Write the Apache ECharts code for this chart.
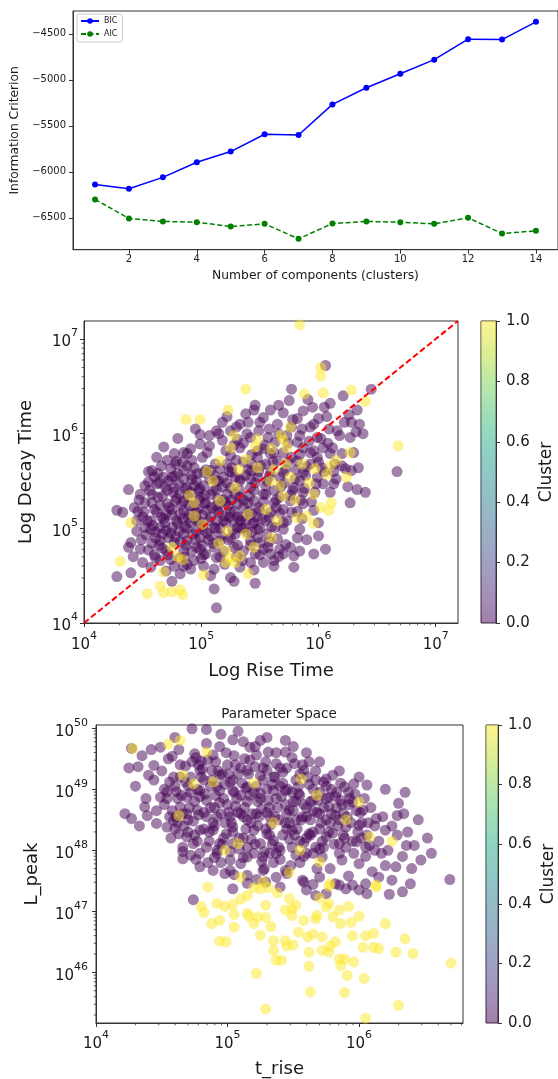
<!DOCTYPE html>
<html><head><meta charset="utf-8">
<script src="https://cdn.jsdelivr.net/npm/echarts@6/dist/echarts.min.js"></script>
<style>html,body{margin:0;padding:0;background:#fff}#c{width:558px;height:1079px}</style>
</head><body><div id="c"></div>
<script>
// ---------- Chart 1 data ----------
const components = [1,2,3,4,5,6,7,8,9,10,11,12,13,14];
const bic = [-6137,-6184,-6060,-5896,-5780,-5591,-5599,-5267,-5086,-4933,-4780,-4558,-4562,-4369];
const aic = [-6300,-6507,-6540,-6548,-6595,-6566,-6729,-6562,-6540,-6548,-6566,-6500,-6671,-6642];

// ---------- Chart 2 data: [log10 rise time, log10 decay time] ----------
const decayRiseCluster0 = [[6.06,6.72],[5.77,6.47],[6.21,6.40],[6.45,6.47],[5.91,6.36],[5.38,6.21],[5.45,6.25],[5.59,6.25],[5.53,6.17],[5.70,6.22],[5.87,6.24],[5.82,6.16],[6.00,6.16],[6.05,6.28],[6.26,6.20],[6.33,6.25],[5.18,6.12],[5.30,6.07],[5.50,6.12],[5.65,6.10],[5.77,6.07],[5.93,6.07],[6.09,6.05],[6.16,6.03],[6.28,6.12],[6.35,6.10],[5.13,6.03],[5.07,5.98],[4.99,5.99],[5.39,6.00],[5.31,5.94],[5.42,5.96],[5.57,5.96],[5.73,5.98],[5.84,5.98],[5.99,5.96],[6.27,5.96],[6.38,6.00],[5.07,5.87],[4.91,5.84],[4.85,5.80],[4.77,5.79],[5.33,5.85],[5.53,5.84],[5.87,5.85],[6.04,5.85],[6.10,5.79],[6.20,5.79],[4.62,5.75],[4.71,5.72],[4.88,5.79],[5.01,5.75],[5.22,5.68],[5.48,5.75],[5.55,5.68],[5.65,5.71],[5.82,5.71],[5.93,5.68],[6.14,5.68],[6.23,5.63],[6.34,5.64],[4.58,5.61],[4.74,5.63],[4.94,5.64],[5.08,5.61],[5.26,5.59],[5.43,5.61],[5.70,5.59],[5.87,5.59],[6.28,5.61],[4.60,5.54],[4.75,5.54],[4.55,5.49],[4.62,5.47],[4.85,5.52],[4.96,5.50],[5.11,5.56],[5.19,5.54],[5.33,5.50],[5.48,5.54],[5.67,5.54],[5.84,5.50],[5.99,5.54],[6.04,5.47],[6.13,5.47],[4.38,5.41],[4.77,5.43],[4.88,5.43],[5.02,5.45],[5.13,5.41],[5.25,5.43],[5.42,5.43],[5.79,5.43],[4.67,5.34],[4.82,5.36],[4.91,5.38],[4.99,5.33],[5.08,5.36],[5.22,5.36],[5.33,5.33],[5.53,5.36],[5.87,5.38],[6.33,5.41],[6.40,5.38],[4.58,5.27],[4.71,5.26],[4.85,5.29],[4.94,5.24],[5.04,5.27],[5.13,5.24],[5.31,5.26],[5.40,5.27],[5.62,5.27],[5.76,5.29],[5.87,5.26],[6.27,5.27],[4.28,5.19],[4.33,5.17],[4.51,5.17],[4.62,5.17],[4.75,5.20],[4.82,5.15],[5.05,5.19],[5.15,5.17],[5.25,5.17],[5.50,5.19],[5.59,5.17],[5.70,5.20],[5.77,5.17],[5.96,5.19],[4.45,5.08],[4.57,5.08],[4.68,5.10],[4.79,5.08],[4.91,5.06],[5.13,5.08],[5.33,5.08],[5.45,5.06],[6.00,5.06],[4.45,4.97],[4.57,4.99],[4.67,4.94],[4.75,5.01],[4.85,4.94],[4.96,4.97],[5.08,4.92],[5.31,5.01],[5.48,4.99],[5.56,4.94],[5.70,4.99],[5.84,4.99],[4.40,4.85],[4.65,4.87],[4.77,4.85],[4.88,4.87],[4.99,4.90],[5.16,4.87],[5.25,4.90],[5.42,4.87],[5.50,4.85],[5.65,4.89],[4.38,4.80],[4.48,4.78],[4.55,4.77],[4.85,4.76],[4.96,4.80],[5.04,4.73],[5.28,4.80],[5.36,4.76],[5.53,4.78],[5.67,4.78],[5.76,4.80],[5.84,4.76],[5.96,4.73],[6.06,4.78],[4.74,4.67],[4.82,4.69],[4.94,4.66],[5.13,4.69],[5.79,4.71],[4.57,4.59],[4.77,4.60],[4.91,4.57],[5.11,4.57],[5.53,4.64],[5.62,4.66],[5.62,4.60],[5.79,4.59],[4.40,4.53],[4.28,4.49],[4.82,4.52],[5.25,4.48],[5.28,4.44],[5.46,4.42],[4.75,4.44],[5.11,4.36],[5.13,4.16],[6.67,5.60],
[4.70,5.15],[4.72,4.90],[4.81,4.97],[4.89,5.11],[4.98,5.08],[5.02,4.99],[5.11,5.01],[5.19,5.08],[5.21,5.27],[5.28,5.08],[5.36,5.22],[5.43,5.15],[5.36,5.01],[5.29,4.94],[5.19,4.76],[5.11,4.80],[5.01,4.82],[4.92,4.76],[4.70,4.76],[4.61,4.69],[4.65,5.01],[4.60,5.20],[4.52,5.27],[4.78,5.29],[4.98,5.40],[5.13,5.50],[5.29,5.54],[5.42,5.52],[5.55,5.45],[5.62,5.40],[5.67,5.33],[5.59,5.59],[5.48,5.82],[5.25,5.77],[5.16,5.63],[5.02,5.59],[4.78,5.68],[4.85,5.61],[4.92,5.56],[5.36,5.70],[5.43,5.68],[5.59,5.79],[5.70,5.80],[5.77,5.75],[5.99,5.75],[5.96,5.82],[5.82,5.91],[5.63,5.91],[5.49,6.03],[5.33,6.10],[5.25,6.03],[5.18,5.93],[4.99,5.89],[4.79,5.71],[4.68,5.54],[4.48,5.36],[4.43,5.22],[4.52,5.01],[4.61,4.90],[4.85,5.19],[4.96,5.17],[5.06,5.08],[5.23,5.24],[5.45,5.29],[5.55,5.08],[5.63,5.01],[5.73,5.08],[5.86,5.10],[5.82,4.90],[5.70,4.73],[5.59,4.73],[5.46,4.73],[5.42,4.64],[5.33,4.59],[5.02,4.60],[4.85,4.60],[4.65,4.66],
[4.47,5.30],[4.50,5.12],[4.53,4.93],[4.56,5.40],[4.59,5.03],[4.63,5.33],[4.64,4.82],[4.66,5.12],[4.69,5.44],[4.70,4.98],[4.73,5.22],[4.76,5.38],[4.78,4.91],[4.80,5.05],[4.81,5.47],[4.83,5.25],[4.86,5.02],[4.87,4.82],[4.89,5.33],[4.90,5.15],[4.93,4.94],[4.94,5.45],[4.96,5.08],[4.98,5.30],[4.99,4.78],[4.55,5.60],[4.66,5.66],[4.72,5.50],[4.80,5.58],[4.88,5.66],[4.92,5.72],[4.97,5.58],
[5.01,5.14],[5.03,5.35],[5.05,4.95],[5.07,5.52],[5.09,5.22],[5.10,4.84],[5.12,5.68],[5.14,5.31],[5.16,5.00],[5.18,5.44],[5.20,5.13],[5.21,5.82],[5.23,4.88],[5.24,5.60],[5.26,5.30],[5.28,5.18],[5.30,5.72],[5.31,4.82],[5.33,5.40],[5.35,5.12],[5.36,5.90],[5.38,5.56],[5.39,4.96],[5.41,5.34],[5.43,5.78],[5.44,5.05],[5.46,5.48],[5.48,4.90],[5.49,5.22],[5.51,5.66],[5.52,5.10],[5.54,5.88],[5.55,5.36],[5.57,4.80],[5.58,5.55],[5.60,5.02],
[5.62,5.80],[5.64,5.22],[5.66,6.00],[5.68,5.44],[5.70,5.06],[5.72,5.62],[5.74,5.90],[5.76,5.35],[5.78,6.15],[5.80,5.52],[5.82,5.18],[5.84,5.78],[5.86,6.05],[5.88,5.42],[5.90,5.65],[5.92,5.92],[5.94,5.28],[5.96,6.10],[5.98,5.47],[6.00,5.70],[6.02,5.95],[6.05,5.60],[6.07,6.18],[6.10,5.38],[6.12,5.85],[6.15,5.52],[6.18,5.98],[6.20,5.66],[6.22,6.12],[6.25,5.44],[6.30,5.80],[6.32,6.02],
[4.68,5.86],[4.80,5.95],[4.95,6.05],[5.05,5.80],[5.15,6.00],[5.22,6.18],[5.28,5.88],[5.40,6.12],[5.46,6.30],[5.58,6.05],[5.66,6.30],[5.75,6.35],[5.95,6.28],[6.10,6.32],
[4.60,4.72],[4.70,4.55],[4.88,4.62],[5.00,4.68],[5.08,4.50],[5.20,4.62],[5.35,4.66],[5.45,4.56],[5.50,4.72],[5.66,4.70],[5.72,4.83],[5.90,4.88],[6.00,4.92],[4.50,4.64],[4.42,4.70],
[4.46,5.18],[4.49,4.88],[4.52,5.45],[4.54,5.08],[4.58,5.36],[4.61,4.96],[4.63,5.58],[4.65,5.24],[4.67,4.79],[4.69,5.06],[4.71,5.40],[4.74,4.95],[4.75,5.14],[4.77,5.55],[4.79,5.32],[4.82,4.86],[4.84,5.10],[4.86,5.42],[4.88,5.00],[4.90,5.24],[4.92,5.52],[4.95,4.88],[4.97,5.20],[4.99,5.42],[5.01,5.02],[5.03,5.26],[5.04,5.62],[5.06,4.88],[5.08,5.12],[5.10,5.40],[5.12,5.00],[5.14,5.20],[5.15,5.50],[5.17,4.92],[5.19,5.30],[5.21,5.06],[5.22,5.48],[5.24,5.12],[5.26,5.64],[5.27,4.98],[5.29,5.36],[5.31,5.12],[5.33,5.52],[5.34,5.00],[5.36,5.30],[5.38,5.08],[5.40,5.62],[5.41,5.18],[5.43,4.96],[5.45,5.40],[5.47,5.12],[5.49,5.60],[5.50,5.00],[5.53,5.28],[5.56,5.50],[5.58,5.12],[5.61,5.70],[5.64,5.30],[5.67,5.16],[5.71,5.48],[5.74,5.70],[5.78,5.40],[5.81,5.62],[5.85,5.30],[5.89,5.56],[5.93,5.80],[5.97,5.38],[6.03,5.64],[6.08,5.90],[6.13,5.60],[4.58,4.84],[4.72,4.72],[4.86,4.70],[5.02,4.72],[5.16,4.70],[5.30,4.70],[5.42,4.82],[5.58,4.86],[4.64,5.48],[4.84,5.70]];
const decayRiseCluster1 = [[5.84,7.15],[6.02,6.70],[6.02,6.61],[5.38,6.47],[5.88,6.42],[6.04,6.43],[6.28,6.46],[6.40,6.34],[5.23,6.25],[4.87,6.15],[4.99,6.15],[5.76,6.07],[5.48,5.94],[5.70,5.93],[5.25,5.85],[5.60,5.84],[5.73,5.85],[6.27,5.80],[5.16,5.71],[5.38,5.73],[5.72,5.68],[6.10,5.66],[5.97,5.63],[6.07,5.57],[5.59,5.50],[5.76,5.54],[6.24,5.54],[5.67,5.45],[5.16,5.29],[5.70,5.34],[5.96,5.36],[6.11,5.27],[4.94,5.13],[5.40,5.15],[5.65,5.08],[6.09,5.19],[4.40,5.06],[5.01,5.04],[5.82,5.11],[5.90,5.13],[5.22,4.97],[5.38,4.94],[4.75,4.80],[5.21,4.76],[5.33,4.71],[4.84,4.67],[5.25,4.68],[4.31,4.65],[5.21,4.64],[5.29,4.64],[4.68,4.54],[5.02,4.51],[5.40,4.52],[4.65,4.39],[4.82,4.35],[4.54,4.31],[4.68,4.32],[4.75,4.33],[4.84,4.30],[6.68,5.87],[5.48,5.64],[5.29,5.43],[5.96,5.05],[4.94,5.27],
[5.10,5.50],[5.32,5.62],[5.46,5.86],[5.55,5.20],[5.62,5.62],[5.68,5.98],[5.80,5.30],[5.86,5.68],[5.92,5.48],[6.02,5.22],[5.15,4.84],[5.45,4.80],[5.05,5.60],[4.90,5.35],[5.60,4.90],[6.15,5.72],[5.28,5.98],[4.80,4.70]];
const diagonalLine = [[1e4,1e4],[1.549e7,1.549e7]];

// ---------- Chart 3 data: [log10 t_rise, log10 L_peak] ----------
const peakRiseCluster0 = [[4.27,49.67],[4.42,49.65],[4.49,49.69],[4.58,49.54],[4.75,49.58],[4.80,49.46],[4.89,49.56],[4.94,49.70],[5.04,49.81],[5.12,49.78],[5.17,49.69],[5.22,49.56],[5.31,49.61],[4.73,49.99],[4.84,49.98],[4.32,49.37],[4.44,49.39],[4.40,49.23],[4.56,49.12],[4.64,49.20],[4.79,49.31],[4.88,49.31],[4.94,49.23],[5.04,49.15],[5.15,49.31],[5.21,49.37],[5.30,49.31],[5.37,49.42],[4.49,48.87],[4.54,48.96],[4.61,48.96],[4.69,48.87],[4.79,48.98],[4.84,48.82],[4.94,48.98],[5.04,48.98],[5.15,49.04],[5.25,48.93],[5.35,48.98],[4.37,48.71],[4.39,48.57],[4.27,48.52],[4.46,48.44],[4.54,48.38],[4.59,48.49],[4.64,48.71],[4.69,48.60],[4.77,48.66],[4.84,48.55],[4.92,48.55],[5.02,48.55],[5.10,48.60],[5.22,48.60],[5.32,48.55],[4.63,48.27],[4.69,48.22],[4.79,48.33],[4.89,48.33],[4.99,48.27],[5.04,48.38],[5.20,48.33],[5.30,48.27],[4.66,48.05],[4.74,48.11],[4.84,48.05],[4.94,48.11],[5.04,48.11],[5.15,48.05],[5.25,48.11],[5.35,48.16],[4.66,47.86],[4.79,47.95],[4.92,47.95],[5.02,47.84],[5.15,47.89],[5.27,47.89],[5.37,47.95],[4.79,47.73],[4.89,47.67],[5.02,47.67],[5.15,47.59],[5.27,47.67],[5.37,47.56],
[5.44,49.80],[5.44,49.61],[5.51,49.42],[5.58,49.31],[5.67,49.15],[5.75,49.17],[5.80,49.23],[5.89,49.04],[5.96,49.09],[6.06,49.07],[5.44,48.98],[5.54,48.93],[5.65,48.82],[5.77,48.87],[5.86,48.82],[5.95,48.79],[6.03,48.66],[6.13,48.52],[6.30,48.77],[6.29,48.57],[6.34,48.60],[6.20,48.33],[6.29,48.25],[6.37,48.30],[6.36,48.08],[6.42,48.08],[6.47,47.84],[6.69,47.52],[5.47,48.66],[5.57,48.55],[5.70,48.60],[5.82,48.57],[5.90,48.38],[6.00,48.41],[5.49,48.33],[5.62,48.27],[5.75,48.22],[5.85,48.11],[5.98,48.14],[6.08,48.08],[5.49,48.05],[5.60,47.95],[5.72,47.89],[5.87,47.84],[6.00,47.78],[6.17,47.95],[6.28,47.73],[5.44,47.67],[5.57,47.51],[5.70,47.56],[5.82,47.45],[5.95,47.43],[6.05,47.45],[6.15,47.56],[6.39,47.45],[6.25,47.51],
[4.74,47.19],[5.04,47.37],[5.15,47.46],[5.29,47.48],[5.58,47.48],[5.65,47.44],[5.67,47.26],[5.75,47.29],[5.85,47.43],[5.90,47.37],[6.06,47.29],[6.23,47.28],[6.33,47.32],
[4.70,49.05],[4.75,48.80],[4.82,49.15],[4.90,48.70],[4.97,48.85],[5.00,49.40],[5.06,48.72],[5.10,48.90],[5.13,49.50],[5.18,48.45],[5.23,48.80],[5.27,49.15],[5.33,48.42],[5.38,48.70],[5.42,49.10],[5.45,48.35],[5.50,48.80],[5.55,48.15],[5.60,48.70],[5.65,49.00],[5.70,48.35],[5.73,48.05],[5.78,48.45],[5.83,48.70],[5.88,48.25],[5.92,48.95],[5.96,47.95],[6.02,48.20],[6.07,48.45],[6.12,48.00],[4.58,48.65],[4.62,48.45],[4.52,49.00],[4.70,48.30],[4.86,48.15],[4.95,47.80],[5.05,47.60],[5.12,48.20],[5.20,47.95],[5.28,47.70],[5.35,47.80],[5.40,48.00],[5.48,47.75],[5.52,48.50],[5.58,47.90],[5.63,48.25],[5.68,47.70],[4.92,49.05],[4.78,49.40],[5.08,49.25],[5.36,49.20],[5.55,49.25],[5.62,49.45],[5.25,49.80],[5.40,49.35],[4.98,48.45],[5.15,48.50],[5.30,48.62],[5.45,48.60],[5.75,48.85],
[4.50,49.30],[4.52,48.75],[4.55,49.50],[4.57,48.20],[4.60,49.05],[4.61,48.55],[4.63,49.65],[4.65,48.90],[4.67,48.40],[4.68,49.38],[4.71,48.70],[4.72,49.20],[4.74,48.48],[4.76,49.52],[4.77,48.15],[4.79,48.88],[4.81,49.33],[4.82,48.62],[4.84,49.75],[4.86,48.30],[4.87,49.05],[4.89,48.45],[4.91,49.45],[4.92,48.00],[4.94,48.78],[4.96,49.25],[4.97,48.20],[4.99,49.60],
[5.01,48.62],[5.02,49.12],[5.04,48.30],[5.05,49.55],[5.07,48.85],[5.09,48.02],[5.10,49.35],[5.12,48.55],[5.14,49.02],[5.15,48.80],[5.17,49.48],[5.18,48.18],[5.20,48.95],[5.21,49.70],[5.23,48.40],[5.25,49.22],[5.26,48.68],[5.28,47.98],[5.29,49.45],[5.31,48.82],[5.32,48.25],[5.34,49.08],[5.36,48.55],[5.37,49.60],[5.39,48.05],[5.41,48.88],[5.42,49.28],[5.44,48.45],[5.46,49.00],[5.47,48.18],[5.49,49.52],[5.50,48.65],
[5.52,49.15],[5.53,48.35],[5.55,48.90],[5.57,49.40],[5.58,48.12],[5.60,48.55],[5.62,49.08],[5.63,48.80],[5.65,48.30],[5.67,49.30],[5.68,48.62],[5.70,48.95],[5.72,48.15],[5.73,49.12],[5.75,48.50],[5.77,48.72],[5.79,49.00],[5.80,48.28],[5.82,48.88],[5.84,48.40],[5.86,49.10],[5.88,48.60],[5.90,48.05],[5.92,48.75],[5.94,48.45],[5.97,48.92],[5.99,48.30],[6.01,48.62],[6.04,48.85],[6.06,48.25],[6.09,48.70],[6.12,48.40],[6.15,48.15],[6.18,48.55],[6.22,48.00],[6.25,48.40],
[4.72,47.92],[4.85,47.80],[4.98,47.62],[5.10,47.78],[5.22,47.52],[5.32,47.95],[5.45,47.62],[5.55,47.80],[5.65,47.95],[5.78,47.70],[5.92,47.58],[6.05,47.90],[6.10,47.65],[6.20,47.75],[6.33,47.90],[5.40,47.40],[5.60,47.35],[6.00,47.35],
[4.22,48.60],[4.30,49.05],[4.35,49.55],[4.38,48.85],[4.44,49.15],[4.46,48.65],[4.25,49.35],[4.33,48.40],[4.60,49.85],[4.95,49.90],[5.08,49.95],[5.30,49.85],[5.50,49.70],[5.60,49.60],[5.70,49.45],[5.85,49.30],[6.00,49.20],[6.20,49.00],[6.35,48.95],[6.45,48.50],[6.52,48.20],[6.40,47.70],[6.55,47.95],
[4.62,48.85],[4.64,49.40],[4.66,48.60],[4.68,49.12],[4.70,48.50],[4.72,48.95],[4.73,49.45],[4.75,48.25],[4.77,49.00],[4.78,48.58],[4.80,49.20],[4.82,48.35],[4.83,48.92],[4.85,49.48],[4.87,48.70],[4.88,49.15],[4.90,48.40],[4.91,48.90],[4.93,49.30],[4.95,48.60],[4.96,48.10],[4.98,49.08],[5.00,48.75],[5.01,49.25],[5.03,48.45],[5.05,48.95],[5.06,49.40],[5.08,48.62],[5.09,48.20],[5.11,49.10],[5.13,48.70],[5.14,48.35],[5.16,49.25],[5.17,48.90],[5.19,48.60],[5.21,48.10],[5.22,49.05],[5.24,48.55],[5.25,48.85],[5.27,49.35],[5.29,48.35],[5.30,49.00],[5.32,48.70],[5.34,48.10],[5.35,49.20],[5.37,48.85],[5.39,48.50],[5.40,49.05],[5.42,48.25],[5.44,48.75],[5.45,49.35],[5.47,48.45],[5.49,48.95],[5.51,48.25],[5.52,48.80],[5.54,49.05],[5.56,48.50],[5.58,48.75],[5.60,48.20],[5.61,49.20],[5.63,48.50],[5.65,48.65],[5.67,48.05],[5.69,48.82],[5.71,48.45],[5.73,48.70],[5.75,49.05],[5.77,48.30],[5.79,48.60],[5.81,48.10],[5.83,48.95],[5.85,48.50],[5.87,48.75],[5.89,48.20],[5.91,48.55],[5.93,48.85],[5.95,48.15],[5.98,48.65],[6.02,48.45],[6.05,48.05],[4.56,48.55],[4.59,49.20],[4.54,48.85],[4.60,48.35],[4.66,47.98],[4.76,47.85],[4.90,47.88],[5.02,47.98],[5.12,47.88],[5.26,47.82],[5.40,47.85],[5.52,47.92],[5.70,48.02],[5.85,47.95]];
const peakRiseCluster1 = [[4.28,49.67],[4.55,49.74],[4.64,49.80],[4.84,49.61],[4.66,49.23],[4.74,49.09],[4.89,49.12],[4.63,48.57],[5.08,48.11],[5.10,47.56],[5.27,47.48],[5.56,49.17],[5.68,48.90],[6.00,48.79],[6.08,48.22],[5.70,47.81],[5.47,47.64],[5.78,47.45],[6.13,47.43],
[4.85,47.40],[4.80,47.08],[4.82,46.98],[4.92,47.13],[4.98,47.08],[5.04,47.11],[5.15,47.26],[5.15,46.97],[5.16,46.92],[5.20,46.80],[5.23,46.91],[5.29,46.90],[5.29,47.10],[5.20,47.39],[5.25,47.37],[5.31,47.39],[4.94,46.85],[5.05,46.74],[4.94,46.51],[4.99,46.50],[5.25,46.61],[5.35,46.52],[5.35,46.36],[5.37,46.20],[5.22,45.98],[5.29,45.40],
[5.47,47.21],[5.44,47.02],[5.49,46.93],[5.49,47.04],[5.67,46.88],[5.68,46.93],[5.75,47.07],[5.77,47.13],[5.80,46.91],[5.85,47.02],[5.86,46.80],[5.94,46.82],[5.54,46.66],[5.61,46.58],[5.65,46.63],[5.72,46.58],[5.44,46.52],[5.41,46.20],[5.45,46.43],[5.62,46.33],[5.72,46.36],[5.78,46.43],[5.77,46.33],[5.85,46.22],[5.89,46.22],[5.86,46.11],[5.96,46.17],[5.91,45.95],[6.04,45.90],[6.03,46.41],[6.11,46.41],[6.15,46.39],[6.11,46.64],[6.28,46.33],[6.41,46.31],[6.70,46.15],[5.63,45.68],[5.89,45.67],[6.30,45.46],[6.05,45.25],[6.13,47.40],[5.77,47.41],
[5.10,47.20],[5.38,47.30],[5.52,47.10],[5.58,46.85],[5.70,47.22],[5.92,47.08],[6.00,46.92],[6.05,46.60],[5.33,46.75],[5.50,46.45],[5.82,46.50],[5.95,46.60],[6.20,46.80],[6.35,46.55],[5.05,46.95],[4.88,46.80],[5.62,46.10],
[5.35,48.45],[5.55,48.00],[5.90,48.50],[6.25,48.15],[5.20,49.10],[4.98,48.00]];

// colorbar
const clusterRange = [1];
const viridis = ['#440154','#482475','#414487','#355f8d','#2a788e','#21918c','#22a884','#44bf70','#7ad151','#bddf26','#fde725'];
const minorMantissas = [2,3,4,5,6,7,8,9];

// ---------- helpers ----------
const FONT = "'DejaVu Sans', sans-serif";
const TXT = '#1a1a1a';
const LINE = '#333';
const toValues = arr => arr.map(p => [Math.pow(10, p[0]), Math.pow(10, p[1])]);
const minusFmt = v => String(v).replace('-', '\u2212');
const powFmt = v => '{b|10}{s|' + Math.round(Math.log10(v)) + '}';
const powRich = {
  b: {fontSize: 15, fontFamily: FONT, color: TXT, lineHeight: 22, verticalAlign: 'bottom'},
  s: {fontSize: 11, fontFamily: FONT, color: TXT, lineHeight: 22, verticalAlign: 'top'}
};
const axLine = {show: true, lineStyle: {color: LINE, width: 1}};
const axTick = {show: true, length: 4, lineStyle: {color: LINE, width: 1}};
const cbStops = viridis.map((c, i) => ({offset: i / (viridis.length - 1), color: c}));
const cbColor = () => new echarts.graphic.LinearGradient(0, 1, 0, 0, cbStops);

function minorValues(min, max) {
  const out = [];
  for (let d = Math.floor(Math.log10(min)); d <= Math.ceil(Math.log10(max)); d++) {
    minorMantissas.forEach(m => { const v = m * Math.pow(10, d); if (v > min * 1.0001 && v < max * 0.9999) out.push(v); });
  }
  return out;
}
function minorSeries(idx, axis, min, max, fixed) {
  return {
    type: 'custom', xAxisIndex: idx, yAxisIndex: idx, silent: true, clip: false, z: 3,
    data: minorValues(min, max).map(v => axis === 'x' ? [v, fixed] : [fixed, v]),
    renderItem: (params, api) => {
      const p = api.coord([api.value(0), api.value(1)]);
      const shape = axis === 'x'
        ? {x1: p[0], y1: p[1], x2: p[0], y2: p[1] + 2.3}
        : {x1: p[0], y1: p[1], x2: p[0] - 2.3, y2: p[1]};
      return {type: 'line', shape: shape, style: {stroke: LINE, lineWidth: 0.8}};
    }
  };
}

function logAxis(grid, min, max, name, nameGap, margin, hideMin) {
  return {
    type: 'log', logBase: 10, gridIndex: grid, min: min, max: max,
    axisLine: axLine, axisTick: axTick, splitLine: {show: false},
    axisLabel: {formatter: powFmt, rich: powRich, margin: margin, showMaxLabel: false, showMinLabel: !hideMin},
    name: name, nameLocation: 'middle', nameGap: nameGap,
    nameTextStyle: {fontSize: 18, fontFamily: FONT, color: TXT}
  };
}
function cbAxes(grid) {
  return {
    x: {type: 'category', gridIndex: grid, data: ['c'], show: false, boundaryGap: true},
    y: {type: 'value', gridIndex: grid, min: 0, max: 1, interval: 0.2, position: 'right',
      axisLine: axLine, axisTick: axTick, splitLine: {show: false},
      axisLabel: {formatter: v => v.toFixed(1), fontSize: 15, fontFamily: FONT, color: TXT, margin: 10},
      name: 'Cluster', nameLocation: 'middle', nameGap: 42,
      nameTextStyle: {fontSize: 17, fontFamily: FONT, color: TXT}}
  };
}
const cb2 = cbAxes(2), cb3 = cbAxes(4);
const border = {show: true, borderColor: LINE, borderWidth: 1, backgroundColor: 'transparent'};

const R2 = [1e4, 1.549e7];            // rise / decay axis limits (chart 2)
const X3 = [1e4, 6.17e6];             // t_rise limits (chart 3)
const Y3 = [1.48e45, 1.13e50];        // L_peak limits (chart 3)

const chart = echarts.init(document.getElementById('c'));
chart.setOption({
  animation: false,
  backgroundColor: '#fff',
  textStyle: {fontFamily: FONT},
  title: {text: 'Parameter Space', left: 'center', top: 702,
    textStyle: {fontSize: 13.5, fontWeight: 'normal', fontFamily: FONT, color: TXT}},
  legend: {data: ['BIC', 'AIC'], orient: 'vertical', left: 77, top: 14, itemWidth: 18, itemHeight: 7, itemGap: 5,
    padding: [3, 5, 4, 3], borderColor: '#ccc', borderWidth: 1, borderRadius: 2, backgroundColor: '#fff',
    textStyle: {fontSize: 8, fontFamily: FONT, color: TXT}},
  grid: [
    Object.assign({left: 73, top: 11, width: 487.5, height: 238.7}, border),
    Object.assign({left: 84, top: 321, width: 374, height: 302}, border),
    Object.assign({left: 481, top: 321, width: 15, height: 302}, border),
    Object.assign({left: 96, top: 725, width: 367, height: 298}, border),
    Object.assign({left: 486, top: 725, width: 14, height: 298}, border)
  ],
  xAxis: [
    {type: 'value', gridIndex: 0, min: 0.35, max: 14.65, splitNumber: 7,
      axisLine: axLine, axisTick: axTick, splitLine: {show: false},
      axisLabel: {fontSize: 10, fontFamily: FONT, color: TXT, margin: 5, showMinLabel: false, showMaxLabel: false},
      name: 'Number of components (clusters)', nameLocation: 'middle', nameGap: 20,
      nameTextStyle: {fontSize: 12.3, fontFamily: FONT, color: TXT}},
    logAxis(1, R2[0], R2[1], 'Log Rise Time', 39, 8, false),
    cb2.x,
    logAxis(3, X3[0], X3[1], 't_rise', 37, 7, false),
    cb3.x
  ],
  yAxis: [
    {type: 'value', gridIndex: 0, min: -6847, max: -4251, splitNumber: 5,
      axisLine: axLine, axisTick: axTick, splitLine: {show: false},
      axisLabel: {formatter: minusFmt, fontSize: 10, fontFamily: FONT, color: TXT, margin: 7, showMinLabel: false, showMaxLabel: false},
      name: 'Information Criterion', nameLocation: 'middle', nameGap: 38,
      nameTextStyle: {fontSize: 12.3, fontFamily: FONT, color: TXT}},
    logAxis(1, R2[0], R2[1], 'Log Decay Time', 48.5, 6, false),
    cb2.y,
    logAxis(3, Y3[0], Y3[1], 'L_peak', 54.5, 8, true),
    cb3.y
  ],
  series: [
    {name: 'BIC', type: 'line', xAxisIndex: 0, yAxisIndex: 0, data: components.map((c, i) => [c, bic[i]]),
      symbol: 'circle', symbolSize: 6, itemStyle: {color: '#0000ff'}, lineStyle: {color: '#0000ff', width: 1.5}},
    {name: 'AIC', type: 'line', xAxisIndex: 0, yAxisIndex: 0, data: components.map((c, i) => [c, aic[i]]),
      symbol: 'circle', symbolSize: 6, itemStyle: {color: '#008000'}, lineStyle: {color: '#008000', width: 1.5, type: [5, 2.5]}},
    {type: 'scatter', xAxisIndex: 1, yAxisIndex: 1, data: toValues(decayRiseCluster0), symbolSize: 11,
      itemStyle: {color: viridis[0], opacity: 0.5}},
    {type: 'scatter', xAxisIndex: 1, yAxisIndex: 1, data: toValues(decayRiseCluster1), symbolSize: 11,
      itemStyle: {color: viridis[10], opacity: 0.5}},
    {type: 'line', xAxisIndex: 1, yAxisIndex: 1, data: diagonalLine, showSymbol: false, z: 5,
      lineStyle: {color: '#ff0000', width: 2, type: [6, 3]}},
    minorSeries(1, 'x', R2[0], R2[1], R2[0]),
    minorSeries(1, 'y', R2[0], R2[1], R2[0]),
    {type: 'bar', xAxisIndex: 2, yAxisIndex: 2, data: clusterRange, barWidth: '100%',
      itemStyle: {color: cbColor(), opacity: 0.5}},
    {type: 'scatter', xAxisIndex: 3, yAxisIndex: 3, data: toValues(peakRiseCluster0), symbolSize: 11,
      itemStyle: {color: viridis[0], opacity: 0.5}},
    {type: 'scatter', xAxisIndex: 3, yAxisIndex: 3, data: toValues(peakRiseCluster1), symbolSize: 11,
      itemStyle: {color: viridis[10], opacity: 0.5}},
    minorSeries(3, 'x', X3[0], X3[1], Y3[0]),
    minorSeries(3, 'y', Y3[0], Y3[1], X3[0]),
    {type: 'bar', xAxisIndex: 4, yAxisIndex: 4, data: clusterRange, barWidth: '100%',
      itemStyle: {color: cbColor(), opacity: 0.5}}
  ]
});
</script></body></html>
